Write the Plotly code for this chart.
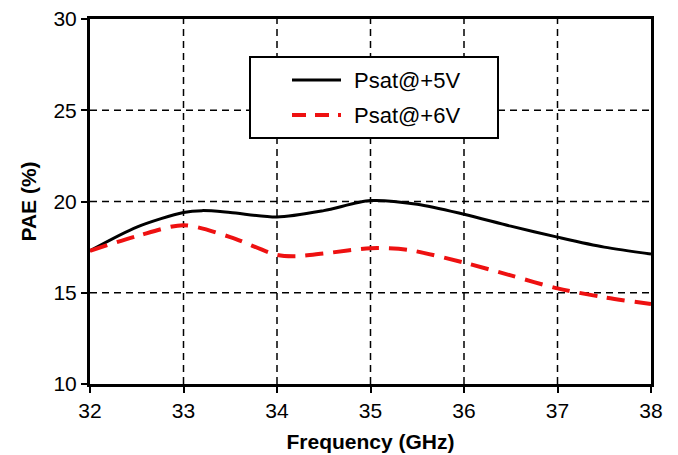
import plotly.graph_objects as go

freq_5v = [32.0, 32.5, 33.0, 33.2, 33.5, 34.0, 34.5, 35.0, 35.5, 36.0, 36.5, 37.0, 37.5, 38.0]
pae_5v = [17.3, 18.6, 19.4, 19.5, 19.4, 19.15, 19.5, 20.05, 19.85, 19.3, 18.65, 18.05, 17.5, 17.12]

freq_6v = [32.0, 32.5, 33.0, 33.5, 34.0, 34.2, 34.5, 35.0, 35.4, 36.0, 36.5, 37.0, 37.5, 38.0]
pae_6v = [17.3, 18.1, 18.7, 18.05, 17.07, 17.0, 17.15, 17.44, 17.35, 16.65, 15.95, 15.24, 14.75, 14.38]

series_names = ["Psat@+5V", "Psat@+6V"]
x_ticks = [32, 33, 34, 35, 36, 37, 38]
y_ticks = [10, 15, 20, 25, 30]

FONT = "Arial, Liberation Sans"
OFF = 8  # page body offset

fig = go.Figure()
fig.add_trace(go.Scatter(x=freq_5v, y=pae_5v, mode="lines", name=series_names[0],
                         line=dict(color="black", width=3, shape="spline", smoothing=0.8),
                         showlegend=False))
fig.add_trace(go.Scatter(x=freq_6v, y=pae_6v, mode="lines", name=series_names[1],
                         line=dict(color="#ee1111", width=4, shape="spline", smoothing=0.8, dash="18px,10px"),
                         showlegend=False))

for xv in x_ticks[1:-1]:
    fig.add_shape(type="line", xref="x", yref="paper", x0=xv, x1=xv, y0=0, y1=1,
                  line=dict(color="black", width=1.5, dash="7px,5px"), layer="below")
for yv in y_ticks[1:-1]:
    fig.add_shape(type="line", xref="paper", yref="y", x0=0, x1=1, y0=yv, y1=yv,
                  line=dict(color="black", width=1.5, dash="7px,5px"), layer="below")

# manual legend box (screen pixel targets)
L, R, T, B = 250, 498, 57, 138
pl, pr, pt, pb = 90, 651, 19, 384
def px(xp):
    return (xp - pl) / (pr - pl)
def py(yp):
    return (pb - yp) / (pb - pt)

fig.add_shape(type="rect", xref="paper", yref="paper", x0=px(L), x1=px(R), y0=py(B), y1=py(T),
              line=dict(color="black", width=2), fillcolor="white", layer="above")
fig.add_shape(type="line", xref="paper", yref="paper", x0=px(292), x1=px(341), y0=py(80), y1=py(80),
              line=dict(color="black", width=3), layer="above")
fig.add_shape(type="line", xref="paper", yref="paper", x0=px(292), x1=px(341), y0=py(115), y1=py(115),
              line=dict(color="#ee1111", width=4, dash="14px,9px"), layer="above")
for name, yy in zip(series_names, [80, 115]):
    fig.add_annotation(text=name, xref="paper", yref="paper", x=px(352), y=py(yy),
                       xanchor="left", yanchor="middle", showarrow=False,
                       font=dict(family=FONT, size=22, color="black"))

fig.update_xaxes(range=[32, 38], tickvals=x_ticks, showgrid=False, zeroline=False,
                 showline=True, linecolor="black", linewidth=3, mirror=True, automargin=False,
                 ticks="outside", ticklen=6, tickwidth=2, tickcolor="black",
                 ticklabeloverflow="allow",
                 tickfont=dict(family=FONT, size=21, color="black"),
                 title=dict(text="<b>Frequency (GHz)</b>", standoff=14,
                            font=dict(family=FONT, size=21, color="black")))
fig.update_yaxes(range=[10, 30], tickvals=y_ticks, showgrid=False, zeroline=False,
                 showline=True, linecolor="black", linewidth=3, mirror=True, automargin=False,
                 ticks="outside", ticklen=6, tickwidth=2, tickcolor="black",
                 ticklabeloverflow="allow",
                 tickfont=dict(family=FONT, size=21, color="black"),
                 title=dict(text="<b>PAE (%)</b>", standoff=12,
                            font=dict(family=FONT, size=21, color="black")))

fig.update_layout(width=678, height=455,
                  margin=dict(l=90 - OFF, r=27 + OFF, t=19 - OFF, b=71 + OFF),
                  plot_bgcolor="white", paper_bgcolor="white", showlegend=False)

fig.write_html("out.html")
